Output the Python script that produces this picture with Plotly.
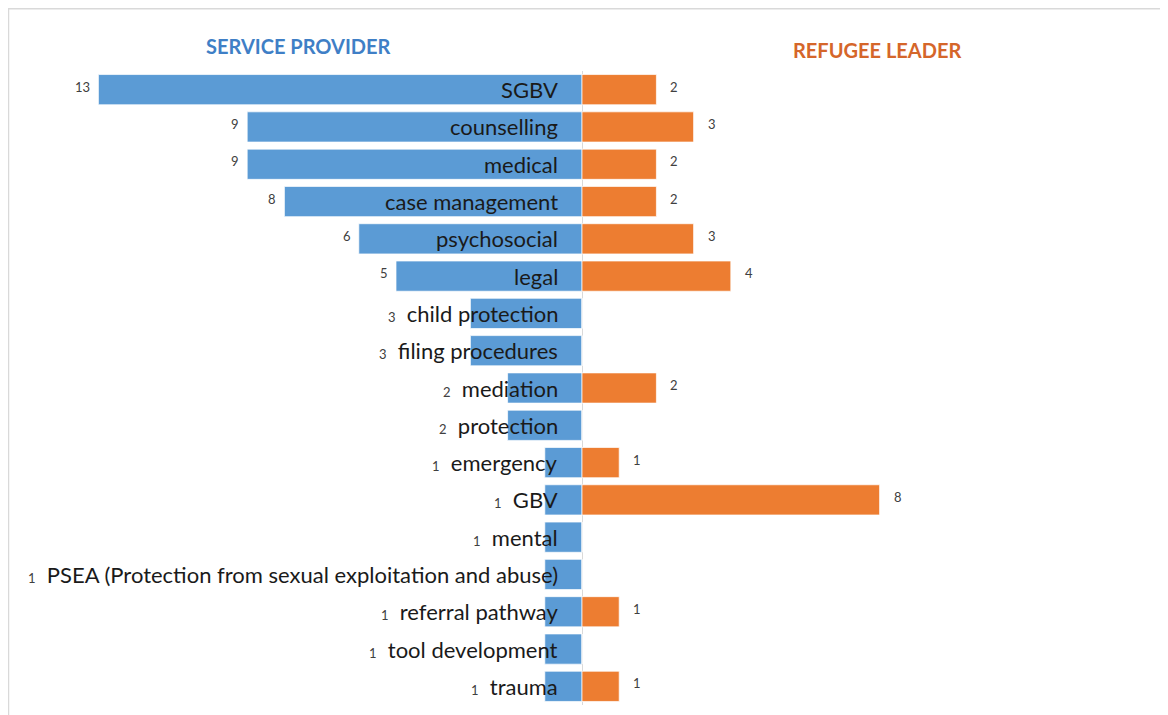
"""Butterfly bar chart: services mentioned by service providers vs refugee leaders"""
import plotly.graph_objects as go

CATEGORIES = [
    "SGBV",
    "counselling",
    "medical",
    "case management",
    "psychosocial",
    "legal",
    "child protection",
    "filing procedures",
    "mediation",
    "protection",
    "emergency",
    "GBV",
    "mental",
    "PSEA (Protection from sexual exploitation and abuse)",
    "referral pathway",
    "tool development",
    "trauma",
]
SERVICE_PROVIDER = [13, 9, 9, 8, 6, 5, 3, 3, 2, 2, 1, 1, 1, 1, 1, 1, 1]
REFUGEE_LEADER = [2, 3, 2, 2, 3, 4, 0, 0, 2, 0, 1, 8, 0, 0, 1, 0, 1]

BLUE = "#5B9BD5"
ORANGE = "#ED7D31"
FONT = "Lato, Calibri, sans-serif"
PX_PER_UNIT = 37.2

# the page body adds an 8px offset, so the figure is a bit smaller than the window
WIDTH, HEIGHT = 1160, 707
PLOT_TOP, PLOT_BOTTOM = 63, 697
CENTER = 574


def label_fits(label, value):
    """Rough check whether the category label fits inside the blue bar"""
    return len(label) * 10 + 22 < value * PX_PER_UNIT


def ypaper(px):
    """Convert a pixel row of the figure into paper units"""
    return (PLOT_BOTTOM - px) / (PLOT_BOTTOM - PLOT_TOP)


fig = go.Figure()
fig.add_trace(
    go.Bar(
        y=CATEGORIES,
        x=[-v for v in SERVICE_PROVIDER],
        orientation="h",
        name="Service provider",
        marker=dict(color=BLUE, line=dict(color="rgba(255,255,255,0.7)", width=1)),
        hoverinfo="skip",
    )
)
fig.add_trace(
    go.Bar(
        y=CATEGORIES,
        x=REFUGEE_LEADER,
        orientation="h",
        name="Refugee leader",
        marker=dict(color=ORANGE, line=dict(color="rgba(255,255,255,0.7)", width=1)),
        hoverinfo="skip",
    )
)

annotations = []
for cat, sp, rl in zip(CATEGORIES, SERVICE_PROVIDER, REFUGEE_LEADER):
    if label_fits(cat, sp):
        text = cat
        annotations.append(
            dict(
                x=-sp, y=cat, text=str(sp), xanchor="right", xshift=-6, yshift=3,
                showarrow=False, font=dict(family=FONT, size=13, color="#404040"),
            )
        )
    else:
        text = f"<span style='font-size:13px;color:#404040'>{sp}</span>  {cat}"
    annotations.append(
        dict(
            x=0, y=cat, text=text, xanchor="right", xshift=-22,
            showarrow=False, font=dict(family=FONT, size=22, color="#1a1a1a"),
        )
    )
    if rl:
        annotations.append(
            dict(
                x=rl, y=cat, text=str(rl), xanchor="left", xshift=12, yshift=3,
                showarrow=False, font=dict(family=FONT, size=13, color="#404040"),
            )
        )

annotations += [
    dict(
        x=0.25, y=ypaper(38), xref="paper", yref="paper", text="<b>SERVICE PROVIDER</b>",
        xanchor="center", yanchor="middle",
        showarrow=False, font=dict(family=FONT, size=20, color="#3F7FC6"),
    ),
    dict(
        x=0.749, y=ypaper(42), xref="paper", yref="paper", text="<b>REFUGEE LEADER</b>",
        xanchor="center", yanchor="middle",
        showarrow=False, font=dict(family=FONT, size=20, color="#D5662A"),
    ),
]

fig.update_layout(
    width=WIDTH,
    height=HEIGHT,
    barmode="relative",
    bargap=0.19,
    showlegend=False,
    plot_bgcolor="white",
    paper_bgcolor="white",
    margin=dict(l=0, r=0, t=PLOT_TOP, b=HEIGHT - PLOT_BOTTOM),
    xaxis=dict(
        range=[-CENTER / PX_PER_UNIT, (WIDTH - CENTER) / PX_PER_UNIT],
        showgrid=False,
        showticklabels=False,
        zeroline=True,
        zerolinecolor="#d9d9d9",
        zerolinewidth=1,
        fixedrange=True,
    ),
    yaxis=dict(
        categoryorder="array",
        categoryarray=CATEGORIES,
        autorange="reversed",
        showgrid=False,
        showticklabels=False,
        fixedrange=True,
    ),
    annotations=annotations,
    shapes=[
        dict(
            type="rect", xref="paper", yref="paper",
            x0=0.5 / WIDTH, x1=1.01, y0=-0.05, y1=ypaper(0.75),
            line=dict(color="#d9d9d9", width=1.5),
        )
    ],
)

fig.write_html("out.html")
